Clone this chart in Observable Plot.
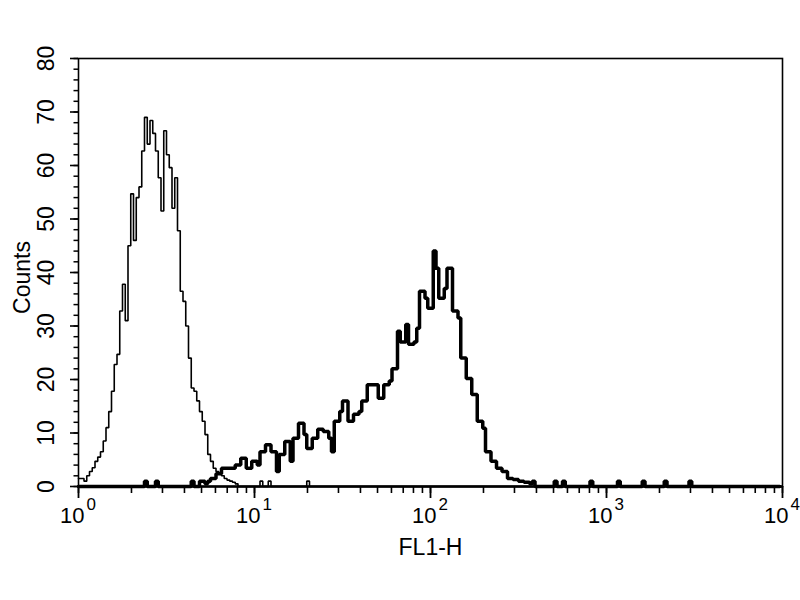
<!DOCTYPE html>
<html>
<head>
<meta charset="utf-8">
<script src="https://cdn.jsdelivr.net/npm/d3@7"></script>
<script src="https://cdn.jsdelivr.net/npm/@observablehq/plot@0.6"></script>
<style>
  html, body { margin: 0; padding: 0; background: #fff; }
</style>
</head>
<body>
<div id="chart"></div>
<script>
// ---- Data (256-channel log histograms, 64 channels per decade) ----
const thinChannels = [0,1,2,3,4,5,6,7,8,9,10,11,12,13,14,15,16,17,18,19,20,21,22,23,24,25,26,27,28,29,30,31,32,33,34,35,36,37,38,39,40,41,42,43,44,45,46,47,48,49,50,51,52,53,54,55,56,57,58,66,67,69,70,83,84,255];
const thinCounts   = [1.5,1.5,1,2,2.8,3.5,4.7,5.5,6.5,8.5,11,14,17.8,22.8,24.7,32.8,37.8,31,45,54.7,46,54,56,62.7,69,64,68.4,66,62.7,57.7,51.5,66.5,62,59.6,52,57.7,47.8,36.5,34.6,30,24,18.4,17.8,16,14,12.2,9.7,6,4.7,3.4,2.8,2.5,2,1.5,1.2,1,0.8,0.5,0,1,0,1,0,1,0,0];

const thickChannels = [0,24,25,28,29,41,42,44,46,47,48,50,52,54,56,57,59,61,63,65,66,68,70,71,72,73,75,77,78,80,82,83,85,87,89,91,92,93,95,96,98,100,102,103,105,107,109,111,113,114,116,117,119,120,122,123,124,126,127,129,130,131,133,134,136,138,139,141,143,145,147,148,150,152,154,156,158,160,162,164,165,166,173,174,176,177,186,187,196,197,205,206,213,214,222,223,255];
const thickCounts   = [0,1,0,1,0,1,0,1,0.5,1,1.5,2.4,3.4,3.4,3.4,4,5.3,3.4,4.7,4,6.5,7.8,6.5,6.5,2.8,6,8.4,4.7,9,11.8,9.7,7.1,9,10.7,10.3,9,6.5,12.2,14,16,12.2,13.5,14,16,19,19,16.5,19,19.7,22,29,27,30.3,26.6,27,29.6,36.5,35.2,33.3,44,40.8,35.2,37,40.8,32.8,31.5,24,20.2,17.2,12.2,10.9,6.5,4.7,3.4,2.8,1.5,1.3,1,0.8,0.5,1,0,1,0,1,0,1,0,1,0,1,0,1,0,1,0,0];

const channelsPerDecade = 64;

// ---- Axis ticks / labels ----
const xMajorTicks = [1, 10, 100, 1000, 10000];
const xTickBase = ["10", "10", "10", "10", "10"];
const xTickExp = ["0", "1", "2", "3", "4"];
const yMajorTicks = [0, 10, 20, 30, 40, 50, 60, 70, 80];
const yTickLabels = ["0", "10", "20", "30", "40", "50", "60", "70", "80"];
const yMinorTicks = [0,2,4,6,8,10,12,14,16,18,20,22,24,26,28,30,32,34,36,38,40,42,44,46,48,50,52,54,56,58,60,62,64,66,68,70,72,74,76,78,80];
const xLabel = "FL1-H";
const yLabel = "Counts";

// build tables for the library
const thin = thinChannels.map((c, i) => ({fl: Math.pow(10, c / channelsPerDecade), count: thinCounts[i]}));
const thick = thickChannels.map((c, i) => ({fl: Math.pow(10, c / channelsPerDecade), count: thickCounts[i]}));

const FONT = "'Liberation Sans', Arial, Helvetica, sans-serif";

const chart = Plot.plot({
  width: 800,
  height: 600,
  marginLeft: 78,
  marginRight: 18,
  marginTop: 58,
  marginBottom: 114,
  style: {fontFamily: FONT, background: "#fff", color: "#000", overflow: "hidden"},
  x: {type: "log", domain: [1, 10000]},
  y: {domain: [0, 80]},
  marks: [
    Plot.line(thin, {x: "fl", y: "count", curve: "step-after", stroke: "#000", strokeWidth: 1.6, strokeLinejoin: "miter"}),
    Plot.line(thick, {x: "fl", y: "count", curve: "step-after", stroke: "#000", strokeWidth: 3.5, strokeLinejoin: "miter"}),
    Plot.axisX({tickSize: 7, tickFormat: () => "", label: null, strokeWidth: 1.6}),
    Plot.axisX({ticks: xMajorTicks, tickSize: 12, tickFormat: () => "", label: null, strokeWidth: 1.8}),
    Plot.axisY({ticks: yMinorTicks, tickSize: 4.5, tickFormat: () => "", label: null, strokeWidth: 1.5}),
    Plot.axisY({ticks: yMajorTicks, tickSize: 8, tickFormat: () => "", label: null, strokeWidth: 1.6}),
    Plot.frame({stroke: "#000", strokeWidth: 1.6}),
    Plot.ruleY([0], {stroke: "#000", strokeWidth: 2.4}),
    Plot.text(yMajorTicks, {y: d => d, frameAnchor: "left", text: (d, i) => yTickLabels[i], rotate: -90, dx: -32, fontSize: 23, textAnchor: "middle", lineAnchor: "middle", fill: "#000", ariaLabel: "y-tick-label"}),
    Plot.text(xMajorTicks, {x: d => d, frameAnchor: "bottom", text: (d, i) => xTickBase[i], textAnchor: "end", lineAnchor: "middle", dx: 6, dy: 29, fontSize: 22, fill: "#000", ariaLabel: "x-tick-base"}),
    Plot.text(xMajorTicks, {x: d => d, frameAnchor: "bottom", text: (d, i) => xTickExp[i], textAnchor: "start", lineAnchor: "middle", dx: 8, dy: 18, fontSize: 17, fill: "#000", ariaLabel: "x-tick-exp"}),
    Plot.text([xLabel], {frameAnchor: "bottom", text: d => d, dy: 61, fontSize: 23, textAnchor: "middle", lineAnchor: "middle", fill: "#000", ariaLabel: "x-label"}),
    Plot.text([yLabel], {frameAnchor: "left", text: d => d, rotate: -90, dx: -56, dy: 5, fontSize: 23, textAnchor: "middle", lineAnchor: "middle", fill: "#000", ariaLabel: "y-label"})
  ]
});

// tall, condensed-looking glyphs like the original cytometry software
function stretch(label, k) {
  chart.querySelectorAll(`g[aria-label="${label}"] text`).forEach(t => {
    const tr = t.getAttribute("transform") || "";
    t.setAttribute("transform", tr + ` scale(1,${k})`);
  });
}
stretch("x-tick-base", 1.35);
stretch("x-tick-exp", 1.3);
stretch("x-label", 1.15);
stretch("y-label", 1.15);

document.getElementById("chart").appendChild(chart);
</script>
</body>
</html>
